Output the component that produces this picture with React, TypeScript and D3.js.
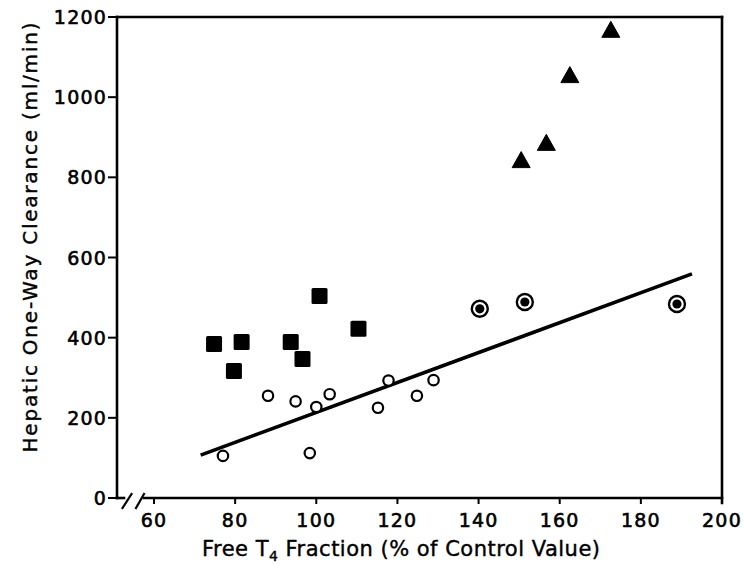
import React from 'react';
import { scaleLinear, line } from 'd3';

// values
const squareX = [74.8, 79.7, 81.6, 93.7, 96.6, 100.8, 110.4];
const squareY = [384, 317, 389, 389, 347, 504, 422];

const openX = [77.0, 88.1, 94.9, 98.4, 100.0, 103.3, 115.2, 117.8, 124.8, 128.9];
const openY = [105, 255, 241, 112, 227, 259, 225, 293, 255, 294];

const dotX = [140.3, 151.4, 188.9];
const dotY = [472, 489, 484];

const triX = [150.5, 156.7, 162.5, 172.6];
const triY = [843, 886, 1055, 1168];

const fitX = [71.5, 192.6];
const fitY = [107, 559];

const xTicks = [60, 80, 100, 120, 140, 160, 180, 200];
const yTicks = [0, 200, 400, 600, 800, 1000, 1200];

const W = 743;
const H = 569;
const FONT = '"DejaVu Sans", Verdana, sans-serif';

const App = () => {
  const x = scaleLinear().domain([60, 200]).range([154, 722]);
  const y = scaleLinear().domain([0, 1200]).range([498, 17]);
  const x0 = 117; // left edge of the frame (axis is broken before 60)
  const [y0, y1] = y.range();
  const xr = x.range()[1];

  const fit = line<number>()
    .x((d) => x(fitX[d]))
    .y((d) => y(fitY[d]));

  const tri = (cx: number, cy: number) =>
    `M${cx},${cy - 8.5}L${cx + 9},${cy + 7.5}L${cx - 9},${cy + 7.5}Z`;

  return (
    <svg width={W} height={H} style={{ position: 'absolute', left: 0, top: 0, background: '#fff' }}>
      <g stroke="#000" strokeWidth={2.6} fill="none" strokeLinecap="square">
        {/* frame */}
        <line x1={x0} y1={y1} x2={xr} y2={y1} />
        <line x1={xr} y1={y1} x2={xr} y2={y0 + 5} />
        <line x1={x0} y1={y1} x2={x0} y2={y0} />
        {/* x axis with break */}
        <line x1={x0} y1={y0} x2={124} y2={y0} />
        <line x1={144} y1={y0} x2={xr} y2={y0} />
        <line x1={122.5} y1={508} x2={131.5} y2={494} strokeWidth={2.2} />
        <line x1={136} y1={508} x2={144} y2={494} strokeWidth={2.2} />
        {xTicks.map((t) => (
          <line key={t} x1={x(t)} x2={x(t)} y1={y0} y2={y0 + 5} strokeWidth={2} />
        ))}
        {yTicks.map((t) => (
          <line key={t} x1={x0 - 8} x2={x0} y1={y(t)} y2={y(t)} strokeWidth={2} />
        ))}
      </g>

      <g fontFamily={FONT} fontSize={19} fill="#000" stroke="#000" strokeWidth={0.6} letterSpacing={1.2}>
        {xTicks.map((t) => (
          <text key={t} x={x(t)} y={y0 + 29} textAnchor="middle">
            {t}
          </text>
        ))}
        {yTicks.map((t) => (
          <text key={t} x={x0 - 10} y={y(t) + 7} textAnchor="end">
            {t}
          </text>
        ))}
      </g>

      <g fontFamily={FONT} fill="#000" stroke="#000" strokeWidth={0.4}>
        <text
          fontSize={20}
          transform={`translate(37,${(y0 + y1) / 2 - 20}) rotate(-90)`}
          textAnchor="middle"
          textLength={430}
          lengthAdjust="spacing"
        >
          Hepatic One-Way Clearance (ml/min)
        </text>
        <text fontSize={21} x={401} y={556} textAnchor="middle" textLength={398} lengthAdjust="spacing">
          Free T<tspan fontSize={14} dy={5}>4</tspan>
          <tspan dy={-5}> Fraction (% of Control Value)</tspan>
        </text>
      </g>

      {/* regression line */}
      <path d={fit([0, 1]) || ''} stroke="#000" strokeWidth={3.6} fill="none" />

      {squareX.map((v, i) => (
        <rect
          key={'s' + i}
          x={x(v) - 8}
          y={y(squareY[i]) - 8}
          width={16}
          height={16}
          rx={1.5}
          fill="#000"
        />
      ))}
      {openX.map((v, i) => (
        <circle key={'o' + i} cx={x(v)} cy={y(openY[i])} r={5.2} fill="#fff" stroke="#000" strokeWidth={2.2} />
      ))}
      {dotX.map((v, i) => (
        <g key={'d' + i}>
          <circle cx={x(v)} cy={y(dotY[i])} r={8} fill="#fff" stroke="#000" strokeWidth={2.4} />
          <circle cx={x(v)} cy={y(dotY[i])} r={4.6} fill="#000" />
        </g>
      ))}
      {triX.map((v, i) => (
        <path key={'t' + i} d={tri(x(v), y(triY[i]))} fill="#000" stroke="#000" strokeWidth={1} strokeLinejoin="round" />
      ))}
    </svg>
  );
};

export default App;
